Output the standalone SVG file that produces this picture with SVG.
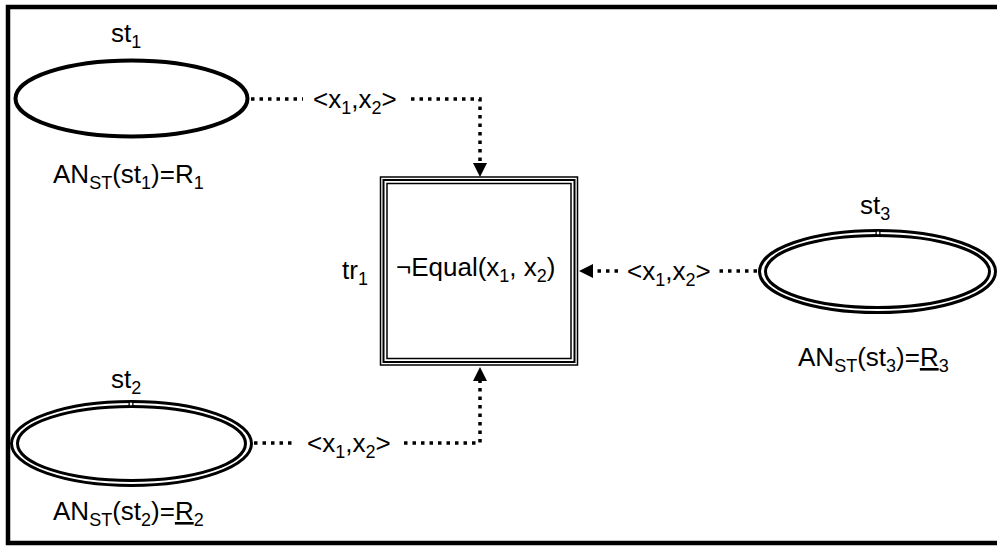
<svg xmlns="http://www.w3.org/2000/svg" width="997" height="546" viewBox="0 0 997 546">
<style>
text{font-family:"Liberation Sans",Arial,sans-serif;font-size:26px;fill:#000}
.sub{font-size:18px}
.dot{fill:none;stroke:#000;stroke-width:3.5;stroke-dasharray:3.5 5}
.el{fill:none;stroke:#000}
</style>
<rect x="0" y="0" width="997" height="546" fill="#fff"/>
<rect x="8" y="7" width="1000" height="536" fill="none" stroke="#000" stroke-width="4.5"/>
<g id="connectors">
<path class="dot" d="M251,99 H303"/>
<path class="dot" d="M411,99 H480 V164"/>
<path d="M473,163 L487,163 L480,177 Z" fill="#000"/>
<text x="313" y="108">&lt;x<tspan class="sub" dy="6">1</tspan><tspan dy="-6">,x</tspan><tspan class="sub" dy="6">2</tspan><tspan dy="-6">&gt;</tspan></text>
<path class="dot" d="M254,443 H296"/>
<path class="dot" d="M404,443 H480 V380"/>
<path d="M473,381 L487,381 L480,367 Z" fill="#000"/>
<text x="307" y="452">&lt;x<tspan class="sub" dy="6">1</tspan><tspan dy="-6">,x</tspan><tspan class="sub" dy="6">2</tspan><tspan dy="-6">&gt;</tspan></text>
<path class="dot" d="M757,271 H718"/>
<path class="dot" d="M618,271 H593"/>
<path d="M593,264 L593,278 L579,271 Z" fill="#000"/>
<text x="627" y="280">&lt;x<tspan class="sub" dy="6">1</tspan><tspan dy="-6">,x</tspan><tspan class="sub" dy="6">2</tspan><tspan dy="-6">&gt;</tspan></text>
</g>
<g id="st1">
<ellipse class="el" cx="131.5" cy="98.5" rx="116" ry="38" stroke-width="4"/>
<text x="111" y="42">st<tspan class="sub" dy="6">1</tspan></text>
<text x="53" y="183">AN<tspan class="sub" dy="6">ST</tspan><tspan dy="-6">(st</tspan><tspan class="sub" dy="6">1</tspan><tspan dy="-6">)=R</tspan><tspan class="sub" dy="6">1</tspan></text>
</g>
<g id="st2">
<ellipse class="el" cx="131.5" cy="443.5" rx="120" ry="42" stroke-width="3"/>
<ellipse class="el" cx="131.5" cy="443.5" rx="114" ry="37" stroke-width="3"/>
<circle cx="131" cy="404" r="2" fill="#fff" stroke="#000" stroke-width="1.2"/>
<text x="111" y="388">st<tspan class="sub" dy="6">2</tspan></text>
<text x="53" y="520">AN<tspan class="sub" dy="6">ST</tspan><tspan dy="-6">(st</tspan><tspan class="sub" dy="6">2</tspan><tspan dy="-6">)=</tspan><tspan text-decoration="underline">R</tspan><tspan class="sub" dy="6">2</tspan></text>
</g>
<g id="st3">
<ellipse class="el" cx="877.5" cy="271.5" rx="118" ry="41" stroke-width="3"/>
<ellipse class="el" cx="877.5" cy="271.5" rx="112" ry="36" stroke-width="3"/>
<circle cx="878" cy="233" r="2" fill="#fff" stroke="#000" stroke-width="1.2"/>
<text x="860" y="214">st<tspan class="sub" dy="6">3</tspan></text>
<text x="798" y="366">AN<tspan class="sub" dy="6">ST</tspan><tspan dy="-6">(st</tspan><tspan class="sub" dy="6">3</tspan><tspan dy="-6">)=</tspan><tspan text-decoration="underline">R</tspan><tspan class="sub" dy="6">3</tspan></text>
</g>
<g id="tr1">
<rect x="380.5" y="177" width="197" height="188" fill="#fff" stroke="#000" stroke-width="1.5"/>
<rect x="383.5" y="180" width="191" height="182" fill="none" stroke="#000" stroke-width="2"/>
<rect x="387" y="183.5" width="184" height="175" fill="none" stroke="#000" stroke-width="1.5"/>
<text x="396" y="276">¬Equal(x<tspan class="sub" dy="6">1</tspan><tspan dy="-6">, x</tspan><tspan class="sub" dy="6">2</tspan><tspan dy="-6">)</tspan></text>
<text x="342" y="279">tr<tspan class="sub" dy="6">1</tspan></text>
</g>
</svg>
